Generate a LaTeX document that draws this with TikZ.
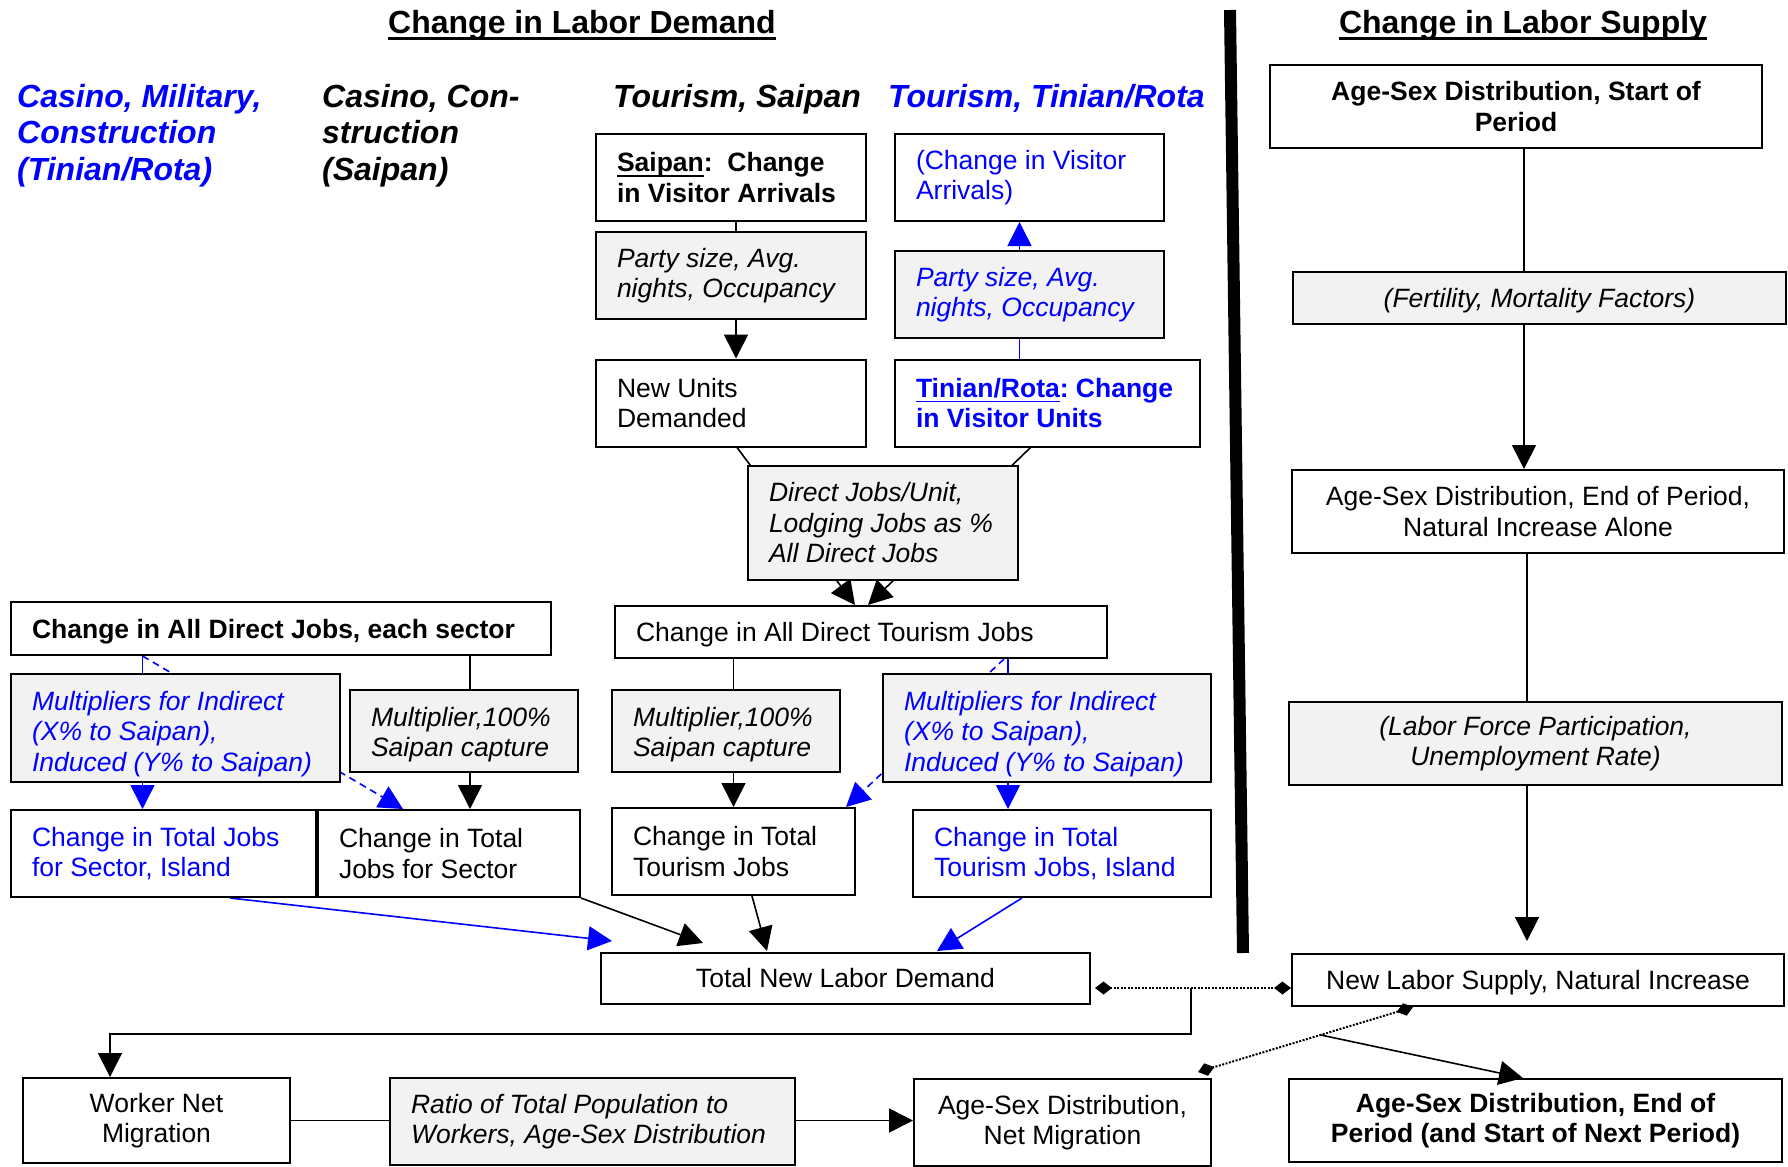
\documentclass[tikz,border=0pt]{standalone}
\usepackage{fontspec}
\setmainfont{Liberation Sans}
\usepackage{tikz}
\usetikzlibrary{arrows.meta,backgrounds,positioning}
\definecolor{boxgray}{HTML}{F2F2F2}
\newcommand{\bodyfont}{\fontsize{26.5}{30.5}\selectfont}
\newcommand{\headfont}{\fontsize{32}{36.5}\selectfont\bfseries\itshape}
\newcommand{\ulbox}[3]{\leavevmode\setbox0=\hbox{#3}\rlap{\copy0}\rule[#1]{\wd0}{#2}}
\frenchspacing

\begin{document}
\begin{tikzpicture}[x=1pt, y=-1pt,
    box/.style={draw, line width=2pt, inner xsep=21pt, inner ysep=0pt, minimum height=87pt, align=flush left, font=\bodyfont},
    factor/.style={box, fill=boxgray, font=\bodyfont\itshape},
    oneline/.style={text depth=0pt},
    colhead/.style={inner sep=0pt, anchor=base west, align=left, font=\headfont},
    arr/.style={line width=1.6pt, -{Triangle[length=24pt, width=24pt]}},
    dotlink/.style={line width=2pt, dash pattern=on 2pt off 1.5pt, {Diamond[length=17pt, width=13pt]}-{Diamond[length=17pt, width=13pt]}}]
    \useasboundingbox (0,0) rectangle (1788,1167);

    % titles
    \node[inner sep=0pt, anchor=base, font=\fontsize{32}{36}\selectfont\bfseries] (tdemand) at (582,33) {\ulbox{-7pt}{3pt}{Change in Labor Demand}};
    \node[inner sep=0pt, anchor=base, font=\fontsize{32}{36}\selectfont\bfseries] (tsupply) at (1523,33) {\ulbox{-7pt}{3pt}{Change in Labor Supply}};

    % column heads
    \node[colhead, text=blue] (hmil) at (17,180) {Casino, Military,\\Construction\\(Tinian/Rota)};
    \node[colhead] (hcon) at (322,180) {Casino, Con-\\struction\\(Saipan)};
    \node[colhead] (hsai) at (613,107) {Tourism, Saipan};
    \node[colhead, text=blue] (htin) at (888,107) {Tourism, Tinian/Rota};

    % tourism, Saipan
    \node[box, font=\bodyfont\bfseries, text width=228pt] (saipan) at (731,177.5) {\ulbox{-5pt}{1.5pt}{Saipan}:\ \ Change\\in Visitor Arrivals};
    \node[factor, text width=228pt] (party) at (731,275.5) {Party size, Avg.\\nights, Occupancy};
    \node[box, text width=228pt] (units) at (731,403) {New Units\\Demanded};

    % tourism, Tinian/Rota
    \node[box, text=blue, text width=227pt] (visit) at (1029.5,177.5) {(Change in Visitor\\Arrivals)};
    \node[factor, text=blue, text width=227pt] (partytr) at (1029.5,294.5) {Party size, Avg.\\nights, Occupancy};
    \node[box, text=blue, font=\bodyfont\bfseries, text width=263pt] (tinian) at (1047.5,403) {\ulbox{-5pt}{1.5pt}{Tinian/Rota}: Change\\in Visitor Units};

    \node[factor, text width=228pt, minimum height=114pt] (jobsunit) at (883,523) {Direct Jobs/Unit,\\Lodging Jobs as \%\\All Direct Jobs};
    \node[box, oneline, text width=450pt, minimum height=52pt] (alltour) at (861,632) {Change in All Direct Tourism Jobs};
    \node[factor, text height=26pt, text width=186pt, minimum height=82pt] (multsai) at (726,731) {Multiplier,100\%\\Saipan capture};
    \node[factor, text=blue, text height=31pt, text width=286pt, minimum height=108pt] (multtr) at (1047,728) {Multipliers for Indirect\\(X\% to Saipan),\\Induced (Y\% to Saipan)};
    \node[box, text width=201pt] (tottour) at (733.5,851.5) {Change in Total\\Tourism Jobs};
    \node[box, text=blue, text width=256pt] (tottouri) at (1062,853.5) {Change in Total\\Tourism Jobs, Island};

    % casino, military, construction
    \node[box, oneline, font=\bodyfont\bfseries, text width=498pt, minimum height=53pt] (alldir) at (281,628.5) {Change in All Direct Jobs, each sector};
    \node[factor, text=blue, text height=31pt, text width=287pt, minimum height=108pt] (multisl) at (175.5,728) {Multipliers for Indirect\\(X\% to Saipan),\\Induced (Y\% to Saipan)};
    \node[factor, text height=26pt, text width=186pt, minimum height=82pt] (multsec) at (464,731) {Multiplier,100\%\\Saipan capture};
    \node[box, text=blue, text width=263pt] (totisl) at (163.5,853.5) {Change in Total Jobs\\for Sector, Island};
    \node[box, text width=220pt, right=0pt of totisl] (totsec) {Change in Total\\Jobs for Sector};

    % demand and migration
    \node[box, align=flush center, text width=447pt, minimum height=51pt] (demand) at (845.5,978.5) {Total New Labor Demand};
    \node[box, align=flush center, text width=225pt, minimum height=85pt] (worker) at (156.5,1120.5) {Worker Net\\Migration};
    \node[factor, text width=363pt] (ratio) at (592.5,1121.5) {Ratio of Total Population to\\Workers, Age-Sex Distribution};
    \node[box, align=flush center, text width=255pt] (netmig) at (1062.5,1122.5) {Age-Sex Distribution,\\Net Migration};

    % labor supply
    \node[box, align=flush center, font=\bodyfont\bfseries, text width=450pt, minimum height=83pt] (start) at (1516,106.5) {Age-Sex Distribution, Start of\\Period};
    \node[factor, oneline, align=flush center, text width=451pt, minimum height=52pt] (fert) at (1539.5,298) {(Fertility, Mortality Factors)};
    \node[box, align=flush center, text width=450pt, minimum height=83pt] (natural) at (1538,511.5) {Age-Sex Distribution, End of Period,\\Natural Increase Alone};
    \node[factor, align=flush center, text width=451pt, minimum height=83pt] (lfp) at (1535.5,743.5) {(Labor Force Participation,\\Unemployment Rate)};
    \node[box, oneline, align=flush center, text width=450pt, minimum height=52pt] (supply) at (1538,980) {New Labor Supply, Natural Increase};
    \node[box, align=flush center, font=\bodyfont\bfseries, text width=451pt, minimum height=83pt] (endper) at (1535.5,1120.5) {Age-Sex Distribution, End of\\Period (and Start of Next Period)};

    \begin{scope}[on background layer]
        \draw[line width=12pt] (1230,10) -- (1243,953);
        \draw[arr] ([xshift=5pt]saipan.south) -- ([xshift=5pt]units.north);
        \draw[arr, blue] ([xshift=-10pt]visit.south |- tinian.north) -- ([xshift=-10pt]visit.south);
        \draw[arr] ([xshift=6pt]units.south) -- ([xshift=-6pt]alltour.north);
        \draw[arr] ([xshift=-17pt]tinian.south) -- ([xshift=7pt]alltour.north);
        \draw[arr] (tottour.north |- alltour.south) -- (tottour.north);
        \draw[arr, blue] ([xshift=-54pt]tottouri.north |- alltour.south) -- ([xshift=-54pt]tottouri.north);
        \draw[arr, blue, dash pattern=on 7pt off 5pt] ([xshift=143pt]alltour.south) -- ([xshift=-10pt]tottour.north east);
        \draw[arr, blue] ([xshift=-21pt]totisl.north |- alldir.south) -- ([xshift=-21pt]totisl.north);
        \draw[arr, blue, dash pattern=on 7pt off 5pt] ([xshift=-21pt]totisl.north |- alldir.south) -- ([xshift=86pt]totsec.north west);
        \draw[arr] ([xshift=21pt]totsec.north |- alldir.south) -- ([xshift=21pt]totsec.north);

        % into total new labor demand
        \draw[arr, blue] ([xshift=66.5pt]totisl.south) -- ([xshift=12pt, yshift=11pt]demand.north west);
        \draw[arr] (totsec.south east) -- ([xshift=103pt, yshift=9pt]demand.north west);
        \draw[arr] ([xshift=18.5pt]tottour.south) -- ([xshift=167pt, yshift=1pt]demand.north west);
        \draw[arr, blue] ([xshift=-40pt]tottouri.south) -- ([xshift=337pt, yshift=1pt]demand.north west);

        % supply side
        \draw[arr] ([xshift=8pt]start.south) -- ([xshift=-14pt]natural.north);
        \draw[arr] ([xshift=-11pt]natural.south) -- ([xshift=-11pt, yshift=12pt]supply.north);

        % balance and migration
        \draw[dotlink] ([xshift=4pt, yshift=-9.5pt]demand.east) -- coordinate[pos=0.49] (meet) ([yshift=-8pt]supply.west);
        \draw[arr] (meet) -- ++(0,46) -| ([xshift=-46.5pt]worker.north);
        \draw[arr] (worker.east) -- (worker.east -| netmig.west);
        \draw[dotlink] ([xshift=-125pt]supply.south) -- coordinate[pos=0.43] (fork) ([xshift=-14pt, yshift=6pt]netmig.north east);
        \draw[arr] (fork) -- ([xshift=-12.5pt]endper.north);
    \end{scope}
\end{tikzpicture}
\end{document}
